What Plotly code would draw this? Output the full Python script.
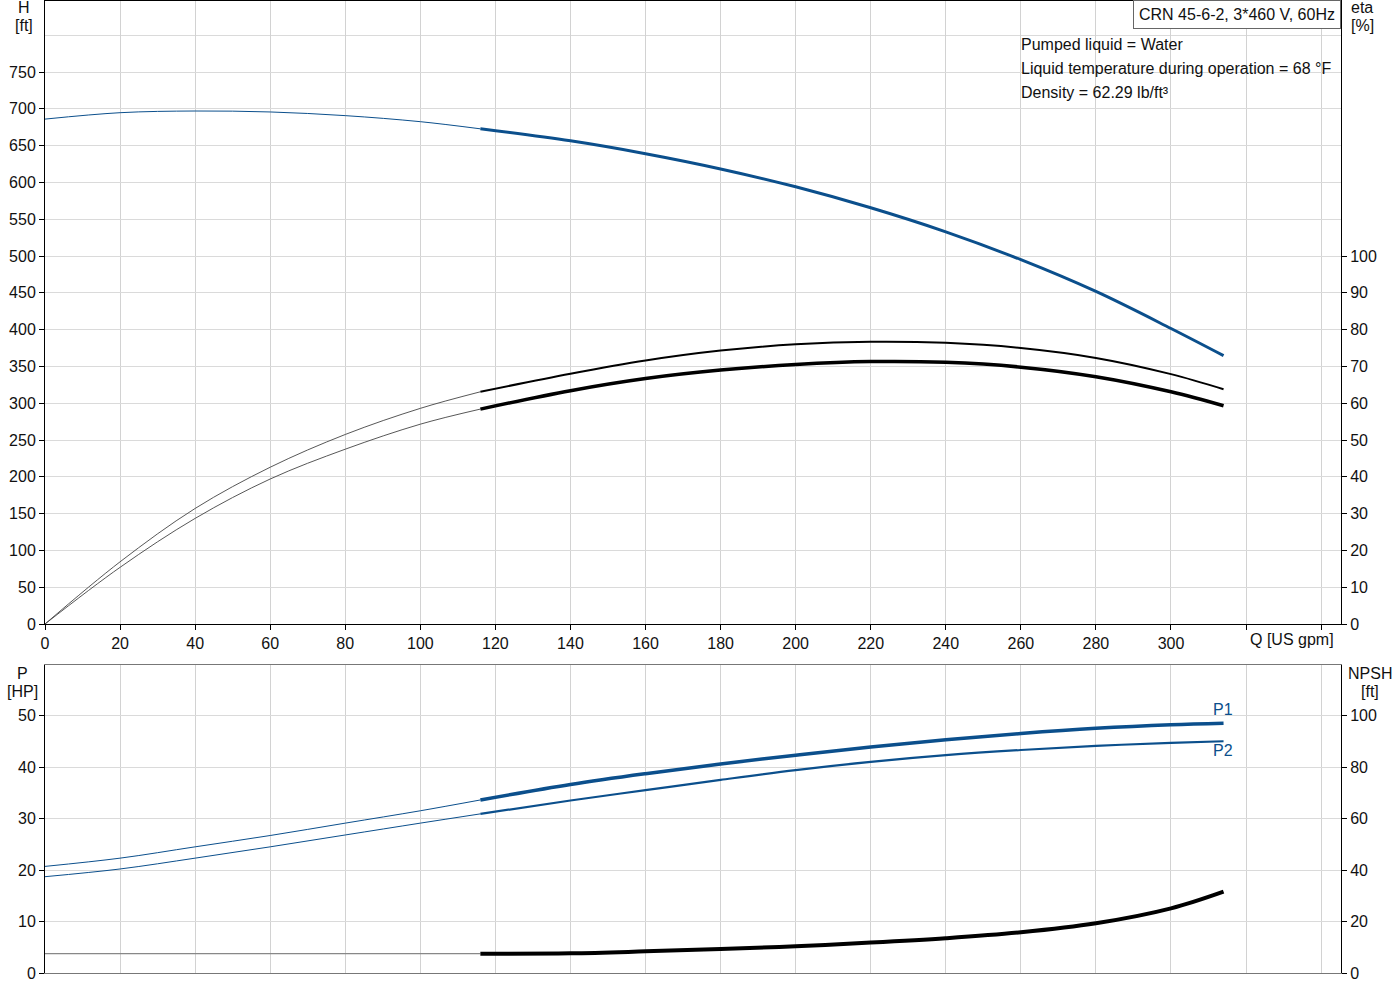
import plotly.graph_objects as go

# ---------------- data ----------------
q_gpm = [0, 20, 40, 60, 80, 100, 116, 140, 160, 180, 200, 220, 240, 260, 280, 300, 314]
q_split = 116  # start of the thick (operating) part of each curve

head_ft = [686.0, 694.7, 697.0, 695.7, 690.7, 682.5, 672.8, 656.5, 639.0,
           618.3, 594.0, 565.5, 532.8, 495.0, 451.8, 401.5, 364.6]
eta_pump = [0.0, 16.9, 31.4, 42.6, 51.5, 58.6, 63.1, 68.0, 71.6,
            74.3, 76.0, 76.7, 76.4, 75.0, 72.3, 67.9, 63.8]
eta_total = [0.0, 15.4, 28.7, 39.4, 47.5, 54.3, 58.4, 63.4, 66.7,
             69.0, 70.5, 71.3, 71.1, 69.8, 67.2, 63.1, 59.3]
p1_hp = [20.7, 22.3, 24.5, 26.7, 29.1, 31.5, 33.6, 36.6, 38.7,
         40.6, 42.3, 43.9, 45.3, 46.5, 47.5, 48.2, 48.5]
p2_hp = [18.7, 20.2, 22.3, 24.5, 26.8, 29.1, 30.9, 33.5, 35.5,
         37.5, 39.4, 41.0, 42.3, 43.3, 44.1, 44.7, 45.0]
npsh_ft = [7.5, 7.5, 7.5, 7.5, 7.5, 7.5, 7.5, 7.65, 8.4,
           9.3, 10.4, 11.8, 13.5, 15.8, 19.3, 25.1, 31.6]

x_tickvals = [0, 20, 40, 60, 80, 100, 120, 140, 160, 180, 200, 220, 240, 260, 280, 300, 320, 340]
x_ticktext = ["0", "20", "40", "60", "80", "100", "120", "140", "160", "180", "200",
              "220", "240", "260", "280", "300", "", ""]
h_tickvals = [0, 50, 100, 150, 200, 250, 300, 350, 400, 450, 500, 550, 600, 650, 700, 750]
eta_tickvals = [0, 10, 20, 30, 40, 50, 60, 70, 80, 90, 100]
p_tickvals = [0, 10, 20, 30, 40, 50]
npsh_tickvals = [0, 20, 40, 60, 80, 100]

title_text = "CRN 45-6-2, 3*460 V, 60Hz"
info_lines = ["Pumped liquid = Water",
              "Liquid temperature during operation = 68 °F",
              "Density = 62.29 lb/ft³"]

# ---------------- styling ----------------
BLUE = "#0b4f8c"
BLACK = "#000000"
GRID_V = "#d2d2d2"
GRID_H = "#dadada"
FONT = "Liberation Sans, Arial, sans-serif"
TXT = "#111111"

W, H = 1400, 1000
ML, MR, MT, MB = 45, 59, 1, 27
PW, PH = W - ML - MR, H - MT - MB


def px_x(px):
    return (px - ML) / PW


def px_y(py):
    return (H - MB - py) / PH


i0 = q_gpm.index(q_split)
q_thin, q_thick = q_gpm[:i0 + 1], q_gpm[i0:]

fig = go.Figure()


def add_curve(vals, xa, ya, color, w_thin, w_thick, thin_color=None):
    fig.add_trace(go.Scatter(x=q_thin, y=vals[:i0 + 1], xaxis=xa, yaxis=ya, mode="lines",
                             line=dict(color=thin_color or color, width=w_thin, shape="spline"),
                             showlegend=False, hoverinfo="skip"))
    fig.add_trace(go.Scatter(x=q_thick, y=vals[i0:], xaxis=xa, yaxis=ya, mode="lines",
                             line=dict(color=color, width=w_thick, shape="spline"),
                             showlegend=False, hoverinfo="skip"))


add_curve(head_ft, "x", "y", BLUE, 1, 3)
add_curve(eta_pump, "x", "y2", BLACK, 0.9, 2, thin_color="#444444")
add_curve(eta_total, "x", "y2", BLACK, 0.9, 3.5, thin_color="#444444")
add_curve(p1_hp, "x2", "y3", BLUE, 1, 3.5)
add_curve(p2_hp, "x2", "y3", BLUE, 1, 2.2)
add_curve(npsh_ft, "x2", "y4", BLACK, 1.2, 4, thin_color="#888888")

x_max = (1341 - 45) / 3.7533
h_max = 623 / 0.736
p_max = 308 / 5.15

tickfont = dict(family=FONT, size=16, color=TXT)

common_x = dict(range=[0, x_max], tickmode="array", tickvals=x_tickvals, showgrid=True,
                gridcolor=GRID_V, gridwidth=1, zeroline=False, showline=True, mirror=True,
                linewidth=1)

fig.update_layout(
    width=W, height=H,
    margin=dict(l=ML, r=MR, t=MT, b=MB),
    paper_bgcolor="white", plot_bgcolor="white",
    font=dict(family=FONT, size=16, color=TXT),
    showlegend=False,
    xaxis=dict(common_x, domain=[0, 1], anchor="y", ticktext=x_ticktext, ticks="outside",
               ticklen=5, tickcolor=BLACK, linecolor=BLACK, tickfont=tickfont),
    yaxis=dict(domain=[px_y(624), 1], anchor="x", range=[0, h_max], tickmode="array",
               tickvals=h_tickvals, ticks="outside", ticklen=5, tickcolor=BLACK,
               showline=True, linecolor=BLACK, linewidth=1, showgrid=True, gridcolor=GRID_H,
               zeroline=False, tickfont=tickfont,
               minor=dict(tickmode="array", tickvals=[800], showgrid=True, gridcolor=GRID_H,
                          ticks="")),
    yaxis2=dict(overlaying="y", side="right", anchor="x", range=[0, h_max / 5],
                tickmode="array", tickvals=eta_tickvals, ticks="outside", ticklen=5,
                tickcolor=BLACK, showline=True, linecolor=BLACK, linewidth=1,
                showgrid=False, zeroline=False, tickfont=tickfont),
    xaxis2=dict(common_x, domain=[0, 1], anchor="y3", showticklabels=False, ticks="",
                linecolor="#777777"),
    yaxis3=dict(domain=[0, px_y(665)], anchor="x2", range=[0, p_max], tickmode="array",
                tickvals=p_tickvals, ticks="outside", ticklen=5, tickcolor=BLACK,
                showline=True, linecolor=BLACK, linewidth=1, showgrid=True,
                gridcolor=GRID_H, zeroline=False, tickfont=tickfont),
    yaxis4=dict(overlaying="y3", side="right", anchor="x2", range=[0, p_max * 2],
                tickmode="array", tickvals=npsh_tickvals, ticks="outside", ticklen=5,
                tickcolor=BLACK, showline=True, linecolor=BLACK, linewidth=1,
                showgrid=False, zeroline=False, tickfont=tickfont),
)


def label(text, px, py, color=TXT, xanchor="center"):
    fig.add_annotation(text=text, xref="paper", yref="paper", x=px_x(px), y=px_y(py),
                       xanchor=xanchor, yanchor="middle", showarrow=False,
                       font=dict(family=FONT, size=16, color=color))


# axis titles
label("H", 24, 8)
label("[ft]", 24, 26)
label("eta", 1362, 8)
label("[%]", 1362, 26)
label("Q [US gpm]", 1292, 639)
label("P", 22, 673)
label("[HP]", 22, 691)
label("NPSH", 1370, 673)
label("[ft]", 1370, 691)
label("P1", 1223, 709, color=BLUE)
label("P2", 1223, 750, color=BLUE)

# title box
fig.add_annotation(text=title_text, xref="paper", yref="paper", x=1, y=px_y(0),
                   xanchor="right", yanchor="top", showarrow=False,
                   font=dict(family=FONT, size=16, color=TXT),
                   bordercolor="#666666", borderwidth=1, borderpad=5, bgcolor="white")

# info lines
for txt, py in zip(info_lines, [44, 68, 92]):
    label(txt, 1019, py, xanchor="left")

fig.write_html("out.html",
               config={"displayModeBar": False},
               post_script="document.body.style.margin='0px';document.body.style.overflow='hidden';")
